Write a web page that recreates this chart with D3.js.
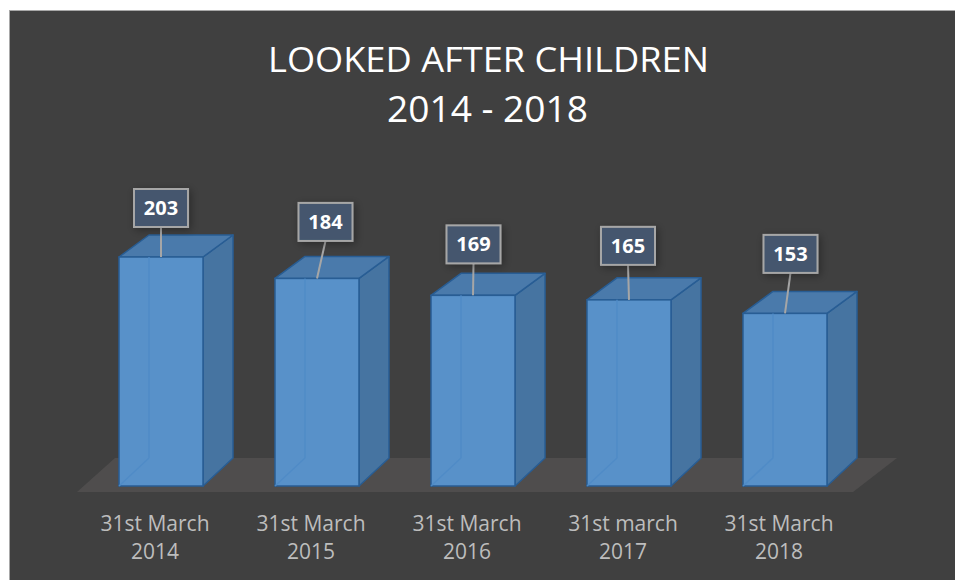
<!DOCTYPE html>
<html>
<head>
<meta charset="utf-8">
<script src="https://cdn.jsdelivr.net/npm/d3@7"></script>
<style>
  html, body { margin: 0; padding: 0; background: #ffffff; }
  svg { display: block; }
</style>
</head>
<body>
<svg id="chart" width="955" height="580"></svg>
<script>
// ---- data ----
const categories = ["31st March 2014", "31st March 2015", "31st March 2016", "31st march 2017", "31st March 2018"];
const values = [203, 184, 169, 165, 153];
const titleLines = ["LOOKED AFTER CHILDREN", "2014 - 2018"];

// ---- layout (not data) ----
const W = 955, H = 580;
const depthX = 30, depthTopY = 22, depthBottomY = 28;
const labelNudge = [[0, -49], [8.5, -56.5], [0.5, -51], [-1, -54], [5.5, -59.5]];
const boxW = 54, boxH = 38;

const svg = d3.select("#chart");

const defs = svg.append("defs");
const f = defs.append("filter").attr("id", "shadow").attr("x", "-40%").attr("y", "-40%").attr("width", "180%").attr("height", "180%");
f.append("feGaussianBlur").attr("in", "SourceAlpha").attr("stdDeviation", 4).attr("result", "b");
f.append("feOffset").attr("in", "b").attr("dx", 2).attr("dy", 2).attr("result", "o");
f.append("feComponentTransfer").attr("in", "o").attr("result", "s")
  .append("feFuncA").attr("type", "linear").attr("slope", 0.35);
const fm = f.append("feMerge");
fm.append("feMergeNode").attr("in", "s");
fm.append("feMergeNode").attr("in", "SourceGraphic");

// chart area background
svg.append("rect").attr("x", 9.5).attr("y", 10.5).attr("width", W - 9).attr("height", H - 10)
  .attr("fill", "#404040").attr("stroke", "#a8a8a8").attr("stroke-width", 1);

// title
const title = svg.append("g").attr("fill", "#ffffff").attr("font-family", "'Open Sans', sans-serif").attr("text-anchor", "middle");
title.append("text").attr("x", 488.5).attr("y", 72).attr("font-size", 35)
  .attr("textLength", 441).attr("lengthAdjust", "spacingAndGlyphs").text(titleLines[0]);
title.append("text").attr("x", 487.5).attr("y", 122).attr("font-size", 36)
  .attr("textLength", 201).attr("lengthAdjust", "spacingAndGlyphs").text(titleLines[1]);

// scales
const x = d3.scaleBand().domain(categories).range([83, 863]).paddingInner(0.4615).paddingOuter(0.2308);
const y = d3.scaleLinear().domain([0, 203]).range([486, 257]);

const y0 = y(0);
const r = x.range();

// floor
const floorFrontY = y0 + 6, floorBackY = y0 - depthBottomY;
svg.append("path")
  .attr("d", d3.line()([[r[0] - 6, floorFrontY], [r[1] - 10, floorFrontY], [r[1] + 34, floorBackY], [r[0] + 32, floorBackY]]) + "Z")
  .attr("fill", "#4f4d4d");

// bars
const bars = svg.append("g").selectAll("g.bar").data(values).join("g").attr("class", "bar");
bars.each(function(v, i) {
  const g = d3.select(this);
  const x0 = x(categories[i]), x1 = x0 + x.bandwidth();
  const yt = y(v);
  const line = d3.line();
  // hidden back edges (faint)
  g.append("path")
    .attr("d", line([[x0, y0], [x0 + depthX, y0 - depthBottomY], [x1 + depthX, y0 - depthBottomY]]) + "M" + (x0 + depthX) + "," + (y0 - depthBottomY) + "L" + (x0 + depthX) + "," + (yt - depthTopY))
    .attr("fill", "none").attr("stroke", "#2f6aa3").attr("stroke-width", 1.5).attr("opacity", 0.6);
  // right side face
  g.append("path")
    .attr("d", line([[x1, yt], [x1 + depthX, yt - depthTopY], [x1 + depthX, y0 - depthBottomY], [x1, y0]]) + "Z")
    .attr("fill", "#4674a1").attr("stroke", "#285d94").attr("stroke-width", 1.5).attr("stroke-linejoin", "round");
  // top face
  g.append("path")
    .attr("d", line([[x0, yt], [x0 + depthX, yt - depthTopY], [x1 + depthX, yt - depthTopY], [x1, yt]]) + "Z")
    .attr("fill", "#4a7aab").attr("stroke", "#285d94").attr("stroke-width", 1.5).attr("stroke-linejoin", "round");
  // front face
  g.append("rect").attr("x", x0).attr("y", yt).attr("width", x.bandwidth()).attr("height", y0 - yt)
    .attr("fill", "#5891c9").attr("stroke", "#285d94").attr("stroke-width", 1.5);
  // faint see-through edges over front
  g.append("path")
    .attr("d", line([[x0, y0], [x0 + depthX, y0 - depthBottomY]]) + "M" + (x0 + depthX) + "," + (y0 - depthBottomY) + "L" + (x0 + depthX) + "," + yt)
    .attr("fill", "none").attr("stroke", "#4f8bc6").attr("stroke-width", 1.5).attr("opacity", 0.9);
});

// data labels
const labels = svg.append("g").selectAll("g.lbl").data(values).join("g").attr("class", "lbl");
labels.each(function(v, i) {
  const g = d3.select(this);
  const cx = x(categories[i]) + x.bandwidth() / 2;
  const yt = y(v);
  const bx = cx + labelNudge[i][0], by = yt + labelNudge[i][1];
  g.append("line").attr("x1", bx).attr("y1", by + boxH / 2).attr("x2", cx).attr("y2", yt)
    .attr("stroke", "#a6a6a6").attr("stroke-width", 2);
  g.append("rect").attr("x", bx - boxW / 2).attr("y", by - boxH / 2).attr("width", boxW).attr("height", boxH)
    .attr("fill", "#44576e").attr("stroke", "#a6a6a6").attr("stroke-width", 2).attr("filter", "url(#shadow)");
  g.append("text").attr("x", bx).attr("y", by + 7).attr("text-anchor", "middle")
    .attr("font-family", "'Open Sans', sans-serif").attr("font-weight", "bold").attr("font-size", 20)
    .attr("fill", "#ffffff").text(v);
});

// category axis
const axisG = svg.append("g").attr("transform", `translate(-6, ${y0 + 45})`)
  .call(d3.axisBottom(x).tickSize(0).tickPadding(0));
axisG.select(".domain").remove();
axisG.selectAll(".tick text")
  .attr("font-family", "'Open Sans', sans-serif").attr("font-size", 21).attr("fill", "#bdbdbd")
  .attr("dy", null).attr("y", 0)
  .each(function(d) {
    const t = d3.select(this);
    const k = d.lastIndexOf(" ");
    const parts = [d.slice(0, k), d.slice(k + 1)];
    t.text(null);
    parts.forEach((p, j) => t.append("tspan").attr("x", 0).attr("y", j * 28).text(p));
  });
</script>
</body>
</html>
